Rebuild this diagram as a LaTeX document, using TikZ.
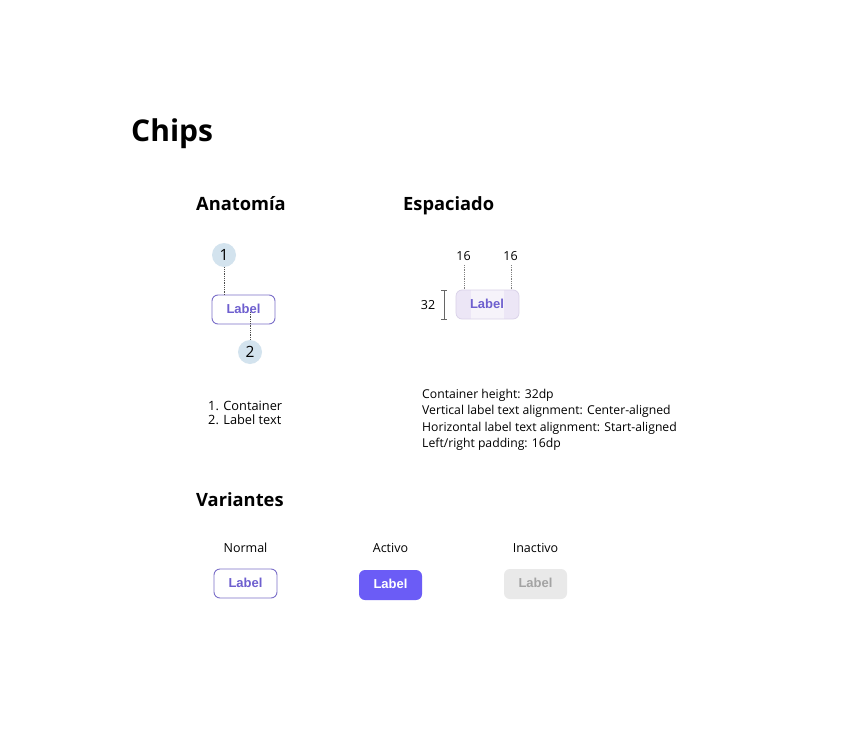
\documentclass[tikz,border=0pt]{standalone}
\usepackage{fontspec}
\setmainfont{Open Sans}
\newfontfamily\chipfont{Liberation Sans}
\definecolor{chippurple}{HTML}{6E5FCF}
\definecolor{chipborder}{HTML}{7B6FC9}
\definecolor{circblue}{HTML}{D3E3EE}
\definecolor{activefill}{HTML}{6B5CF6}
\definecolor{inactfill}{HTML}{E9E9E9}
\definecolor{inacttext}{HTML}{A3A3A3}
\definecolor{spacefill}{HTML}{F6F3FA}
\definecolor{padfill}{HTML}{ECE6F6}
\definecolor{spaceborder}{HTML}{D9D1E8}
\tikzset{
  title/.style={anchor=base west, font=\fontsize{30}{34}\selectfont\bfseries, inner sep=0},
  heading/.style={anchor=base west, font=\fontsize{18.3}{22}\selectfont\bfseries, inner sep=0},
  body/.style={anchor=west, font=\fontsize{12.2}{16.4}\selectfont, inner sep=0, align=left},
  small/.style={font=\fontsize{12.5}{14}\selectfont, inner sep=0},
  chiptext/.style={font=\chipfont\fontsize{13}{14}\selectfont\bfseries, inner sep=0},
  marker/.style={circle, fill=circblue, minimum size=24pt, inner sep=0, font=\fontsize{15.5}{16}\selectfont},
  guide/.style={densely dotted, draw=black!70, line width=0.8pt},
  chipbox/.style={rounded corners=6pt, line width=0.9pt},
}
\begin{document}
\begin{tikzpicture}[x=1pt,y=-1pt]
\useasboundingbox[fill=white] (0,0) rectangle (850,754);

\node[title] (t) at (131,142) {Chips};
\node[heading] (h1) at (196,210) {Anatomía};
\node[heading] (h2) at (403,210) {Espaciado};
\node[heading] (h3) at (196,506) {Variantes};

% Anatomy
\node[marker] (m1) at (224,255) {1};
\draw[chipbox, draw=chipborder, fill=white] (212,295) rectangle (275,324);
\coordinate (c1top) at (224,295);
\node[chiptext, text=chippurple] (lab1) at (243.5,309) {Label};
\coordinate (c1in) at (250,312);
\node[marker] (m2) at (250,352) {2};
\draw[guide] (m1.south) -- (c1top);
\draw[guide] (c1in) -- (m2.north);

\node[body, anchor=north west, font=\fontsize{12.8}{14.4}\selectfont] (list) at (208,401) {1. Container\\2. Label text};

% Spacing
\begin{scope}
\clip[rounded corners=6pt] (456,290) rectangle (519,319);
\fill[spacefill] (456,290) rectangle (519,319);
\fill[padfill] (456,290) rectangle (471,319);
\fill[padfill] (504,290) rectangle (519,319);
\end{scope}
\draw[chipbox, draw=spaceborder, line width=0.7pt] (456,290) rectangle (519,319);
\node[chiptext, text=chippurple] (lab2) at (487,304) {Label};
\node[small] (n16a) at (463.5,256) {16};
\node[small] (n16b) at (510.5,256) {16};
\coordinate (pa) at (464,290);
\coordinate (pb) at (511,290);
\draw[guide, draw=black!50] (464,265) -- (pa);
\draw[guide, draw=black!50] (511,265) -- (pb);
\node[small] (n32) at (428,305) {32};
\coordinate (bt) at (444,290);
\coordinate (bb) at (444,319);
\draw[black!60, line width=0.9pt] (bt) -- (bb);
\draw[black!60, line width=0.9pt] ([xshift=-3pt]bt) -- ([xshift=3pt]bt);
\draw[black!60, line width=0.9pt] ([xshift=-3pt]bb) -- ([xshift=3pt]bb);

\node[body, anchor=north west] (desc) at (422,389) {Container height: 32dp\\Vertical label text alignment: Center-aligned\\Horizontal label text alignment: Start-aligned\\Left/right padding: 16dp};

% Variants
\node[small] (v1) at (245.5,548) {Normal};
\node[small] (v2) at (390.5,548) {Activo};
\node[small] (v3) at (535.5,548) {Inactivo};

\draw[chipbox, draw=chipborder, fill=white] (214,569) rectangle (277,598);
\node[chiptext, text=chippurple] (l1) at (245.5,583) {Label};
\fill[chipbox, fill=activefill] (359,570) rectangle (422,600);
\node[chiptext, text=white] (l2) at (390.5,584) {Label};
\fill[chipbox, fill=inactfill] (504,569) rectangle (567,599);
\node[chiptext, text=inacttext] (l3) at (535.5,583) {Label};
\end{tikzpicture}
\end{document}
